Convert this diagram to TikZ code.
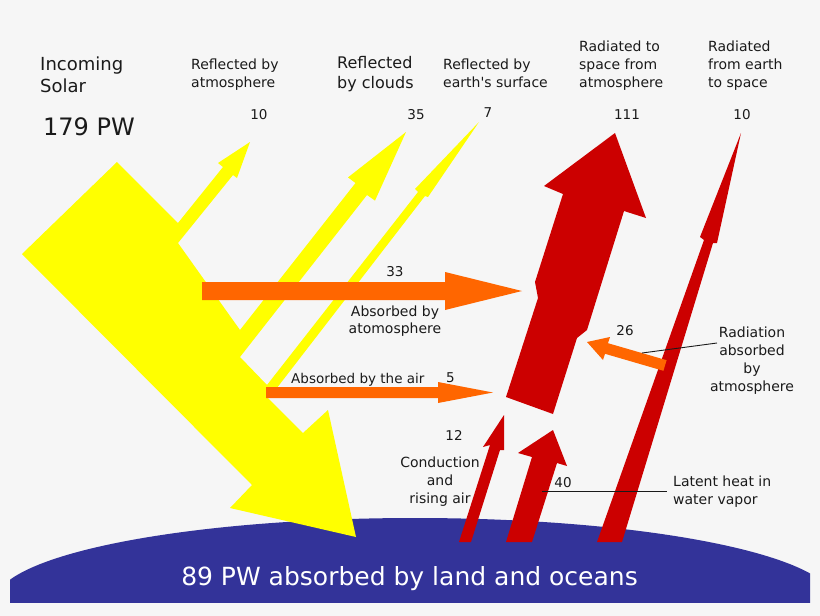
\documentclass[tikz,border=0pt]{standalone}
\usepackage{fontspec}
\setmainfont{DejaVu Sans}[Ligatures=TeXOff]
\definecolor{bgc}{HTML}{F6F6F6}
\definecolor{sun}{HTML}{FFFF00}
\definecolor{heat}{HTML}{FF6600}
\definecolor{rad}{HTML}{CC0000}
\definecolor{earth}{HTML}{333399}
\definecolor{ink}{HTML}{1A1A1A}
\begin{document}
\begin{tikzpicture}[x=1pt,y=-1pt,
  lbl/.style={inner sep=0pt, text=ink, font=\fontsize{14}{17.7}\selectfont},
  num/.style={inner sep=0pt, text=ink, font=\fontsize{13.5}{16}\selectfont, anchor=base},
  leader/.style={draw=ink, line width=0.9pt},
  sunfill/.style={fill=sun},
  heatfill/.style={fill=heat},
  radfill/.style={fill=rad}]
\fill[bgc] (0,0) rectangle (820,616);
\useasboundingbox (0,0) rectangle (820,616);
% earth
\begin{scope}
  \clip (10,0) rectangle (810,602);
  \fill[earth] (415,602) ellipse [x radius=420pt, y radius=84pt];
\end{scope}
% incoming solar and reflected flows
\fill[sunfill] (22,254) -- (117,162) -- (178,223)
  -- (223,167) -- (218,163) -- (250,142) -- (237,178) -- (233,175)
  -- (178,243) -- (240,330)
  -- (355.5,183) -- (348,177.4) -- (406,132) -- (375,200.6) -- (367,195)
  -- (240,357) -- (267,385)
  -- (418,192) -- (415,189) -- (479,122) -- (428,197) -- (425,196)
  -- (273,393) -- (267,397) -- (303,433)
  -- (328,410) -- (356,537) -- (230,508) -- (252,485) -- cycle;
% absorbed by atmosphere (33) and by the air (5)
\fill[heatfill] (202,282) -- (445,282) -- (445,272) -- (522,291) -- (445,310) -- (445,300) -- (202,300) -- cycle;
\fill[heatfill] (266,387) -- (438,387) -- (438,382) -- (493,392.5) -- (438,403) -- (438,398) -- (266,398) -- cycle;
% radiated to space from atmosphere (111)
\fill[radfill] (615,133) -- (646,218) -- (624,211) -- (587,330) -- (577,338) -- (553,414)
  -- (506,397) -- (538,298) -- (535,282) -- (563,194) -- (544,186) -- cycle;
% conduction (12)
\fill[radfill] (459,542) -- (490,445) -- (483,447) -- (504,415) -- (504,450) -- (500,450) -- (471,542) -- cycle;
% latent heat (40)
\fill[radfill] (506,542) -- (532,457) -- (518,453) -- (553,430) -- (567,466) -- (557,463) -- (532,542) -- cycle;
% radiated from earth to space (10)
\fill[radfill] (597,542) -- (704,240) -- (700,237) -- (741,133) -- (717,243) -- (713,243) -- (622,542) -- cycle;
% radiation absorbed by atmosphere (26)
\fill[heatfill] (666.6,360.2) -- (608,343.2) -- (610,337) -- (587,342) -- (603,360) -- (605,353.8) -- (663.4,370.8) -- cycle;
% leaders
\coordinate (lra) at (642,353);
\coordinate (lrb) at (717,343);
\draw[leader] (lra) -- (lrb);
\coordinate (lla) at (542,491);
\coordinate (llb) at (667,491);
\draw[leader] (lla) -- (llb);
% texts (base anchor = baseline of the last line)
\node[lbl, font=\fontsize{18}{22}\selectfont, anchor=base west, align=left] (incoming) at (40,92) {Incoming\\Solar};
\node[lbl, font=\fontsize{24}{28}\selectfont, anchor=base west] (total) at (43,135) {179 PW};
\node[lbl, font=\fontsize{14}{18}\selectfont, anchor=base west, align=left] (reflatm) at (191,87) {Reflected by\\atmosphere};
\node[lbl, font=\fontsize{16}{20}\selectfont, anchor=base west, align=left] (reflcl) at (337,88) {Reflected\\by clouds};
\node[lbl, font=\fontsize{14}{18}\selectfont, anchor=base west, align=left] (reflsurf) at (443,87) {Reflected by\\earth's surface};
\node[lbl, font=\fontsize{14}{18}\selectfont, anchor=base west, align=left] (radatm) at (579,87) {Radiated to\\space from\\atmosphere};
\node[lbl, font=\fontsize{14}{18}\selectfont, anchor=base west, align=left] (radearth) at (708,87) {Radiated\\from earth\\to space};
\node[num] (n10a) at (259,119) {10};
\node[num] (n35) at (416,119) {35};
\node[num] (n7) at (488,117) {7};
\node[num] (n111) at (627,119) {111};
\node[num] (n10b) at (742,119) {10};
\node[num] (n33) at (395,276) {33};
\node[lbl, anchor=base, align=center, font=\fontsize{14}{17}\selectfont] (absatm) at (395,333) {Absorbed by\\atomosphere};
\node[lbl, anchor=base west, font=\fontsize{13.5}{16}\selectfont] (absair) at (291,383) {Absorbed by the air};
\node[num, anchor=base west] (n5) at (446,382) {5};
\node[num] (n26) at (625,335) {26};
\node[lbl, anchor=base, align=center] (radabs) at (752,391) {Radiation\\absorbed\\by\\atmosphere};
\node[num] (n12) at (454,440) {12};
\node[lbl, anchor=base, align=center] (cond) at (440,503) {Conduction\\and\\rising air};
\node[num] (n40) at (563,487) {40};
\node[lbl, anchor=base west, align=left] (latent) at (673,504) {Latent heat in\\water vapor};
\node[inner sep=0pt, text=white, font=\fontsize{25}{29}\selectfont, anchor=base] (land) at (409.5,585) {89 PW absorbed by land and oceans};
\end{tikzpicture}
\end{document}
